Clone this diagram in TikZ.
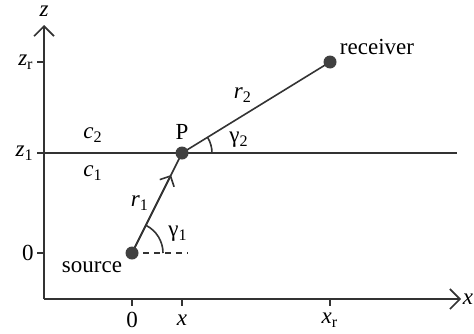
\documentclass[tikz,border=0pt]{standalone}
\usepackage{fontspec}
\setmainfont{Liberation Serif}
\usetikzlibrary{arrows.meta,calc}

\begin{document}
\begin{tikzpicture}[x=0.5pt, y=0.5pt,
  font=\fontsize{11.5}{13}\selectfont,
  ln/.style={line width=0.8pt, draw=black!80},
  ax/.style={ln, -{Straight Barb[length=5pt,width=10pt]}},
  ray/.style={ln, -{Straight Barb[length=4pt,width=8pt]}},
  dot/.style={circle, fill=black!75, inner sep=0pt, minimum size=6.5pt},
  lab/.style={inner sep=1pt}]
\useasboundingbox (0,0) rectangle (474,333);

% --- axes and ticks
\coordinate (O) at (44,34);
\coordinate (ztop) at (44,308);
\coordinate (xend) at (461,34);
\draw[ax] (O) -- (ztop);
\draw[ax] (O) -- (xend);
\node[lab] (zax) at (44,322) {\textit{z}};
\node[lab] (xax) at (468,34) {\textit{x}};

\foreach \zz/\zn/\zt in {271/zr/{\textit{z}\textsubscript{r}}, 180/zo/{\textit{z}\textsubscript{1}}, 80/zs/0}
  {\draw[ln] (37,\zz) -- (44,\zz);
   \node[lab, left] (\zn) at (36,\zz) {\zt};}
\foreach \xx/\xn/\xt in {132/xs/0, 182/xp/\textit{x}, 330/xr/{\textit{x}\textsubscript{r}}}
  {\draw[ln] (\xx,34) -- (\xx,27);
   \node[lab] (\xn) at (\xx,13) {\xt};}

% --- interface between the two layers
\coordinate (ifl) at (44,180);
\coordinate (ifr) at (457,180);
\draw[ln] (ifl) -- (ifr);
\node[lab] (c2) at (93,198) {\textit{c}\textsubscript{2}};
\node[lab] (c1) at (93,160) {\textit{c}\textsubscript{1}};

% --- source, refraction point, receiver
\coordinate (S) at (132,80);
\coordinate (Pp) at (182,180);
\coordinate (R) at (330,271);
\coordinate (Sh) at (188,80);
\draw[ln, dash pattern=on 3pt off 2.5pt] (S) -- (Sh);
\draw[ln] (S) -- (Pp) -- (R);
\draw[ray] (S) -- ($(S)!0.78!(Pp)$);
\node[dot] (src) at (S) {};
\node[dot] (pnt) at (Pp) {};
\node[dot] (rcv) at (R) {};
\node[lab] (srclab) at (92,66) {source};
\node[lab] (rcvlab) at (377,286) {receiver};
\node[lab] (plab) at (182,201) {P};

% angles and ray labels
\draw[ln] ($(S)+(31,0)$) arc (0:63.4:31);
\draw[ln] ($(Pp)+(30,0)$) arc (0:31.6:30);
\node[lab] (g1) at (178,99) {γ\textsubscript{1}};
\node[lab] (g2) at (239,193) {γ\textsubscript{2}};
\node[lab] (r1) at (140,130) {\textit{r}\textsubscript{1}};
\node[lab] (r2) at (243,238) {\textit{r}\textsubscript{2}};
\end{tikzpicture}
\end{document}
